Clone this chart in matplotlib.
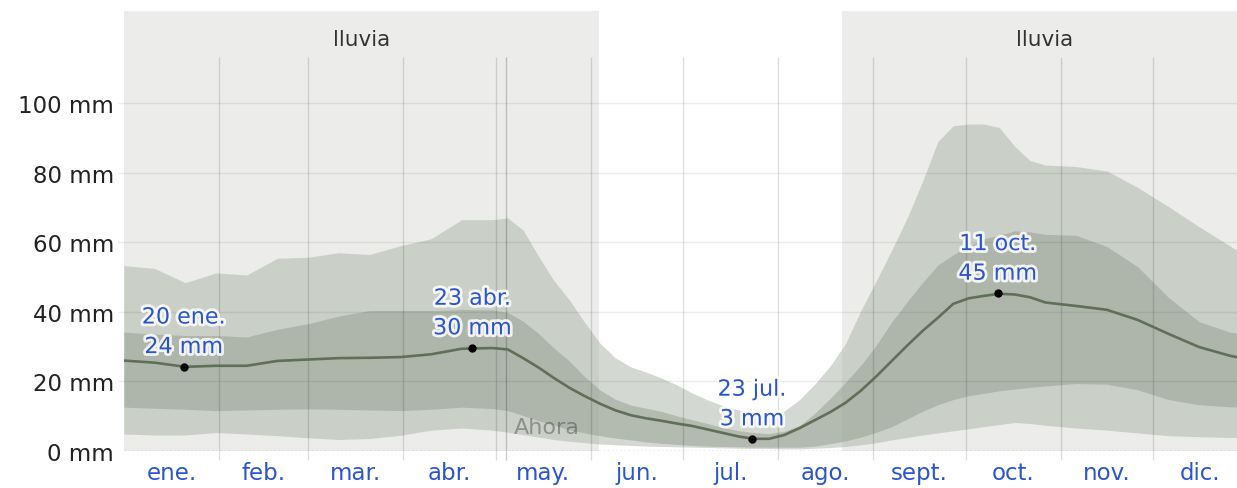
import matplotlib.pyplot as plt
import matplotlib.patheffects as pe

# días del año (año bisiesto, 0 = 1 ene.)
days = [0, 10, 20, 30, 40, 50, 60, 70, 80, 90, 100, 110,
        120, 125, 130, 135, 140, 145, 150, 155, 160, 165, 170, 175,
        180, 185, 190, 195, 200, 205, 210, 215, 220, 225, 230, 235,
        240, 245, 250, 255, 260, 265, 270, 275, 280, 285, 290, 295,
        300, 310, 320, 330, 340, 350, 360, 366]

# lluvia acumulada de 31 días (mm): percentiles 10/25/50/75/90
p10 = [4.9, 4.6, 4.6, 5.3, 4.9, 4.4, 3.8, 3.3, 3.6, 4.5, 6.0, 6.6,
       6.0, 5.4, 4.7, 4.0, 3.3, 2.8, 2.4, 2.0, 1.8, 1.6, 1.4, 1.3,
       1.2, 1.1, 1.0, 0.9, 0.8, 0.7, 0.7, 0.6, 0.6, 0.8, 1.0, 1.3,
       1.8, 2.4, 3.2, 3.9, 4.6, 5.2, 5.8, 6.4, 7.0, 7.6, 8.2, 7.9,
       7.4, 6.6, 6.0, 5.2, 4.4, 4.1, 3.9, 3.9]
p25 = [12.6, 12.3, 12.0, 11.6, 11.8, 12.0, 12.1, 12.0, 11.8, 11.6, 12.0, 12.6,
       12.2, 11.6, 10.2, 8.7, 7.5, 6.1, 5.2, 4.4, 3.7, 3.2, 2.6, 2.2,
       1.9, 1.6, 1.4, 1.3, 1.2, 1.1, 1.1, 1.1, 1.1, 1.4, 2.1, 2.9,
       4.0, 5.4, 7.0, 9.2, 11.4, 13.3, 14.8, 15.9, 16.6, 17.3, 17.8, 18.3,
       18.7, 19.4, 19.2, 17.6, 14.8, 13.3, 12.7, 12.5]
median = [26.0, 25.4, 24.2, 24.5, 24.5, 25.9, 26.3, 26.7, 26.8, 27.0, 27.8, 29.4,
          29.6, 29.2, 26.7, 24.0, 21.0, 18.2, 15.8, 13.6, 11.7, 10.3, 9.4, 8.7,
          7.9, 7.2, 6.2, 5.2, 4.2, 3.5, 3.5, 4.6, 6.6, 8.9, 11.2, 13.9,
          17.4, 21.5, 25.9, 30.3, 34.5, 38.3, 42.3, 43.9, 44.6, 45.2, 45.0, 44.2,
          42.7, 41.7, 40.6, 37.7, 33.7, 29.9, 27.4, 26.3]
p75 = [34.2, 33.6, 33.2, 33.2, 32.8, 35.0, 36.6, 38.8, 40.4, 40.4, 40.4, 40.7,
       40.6, 39.8, 37.3, 33.8, 29.6, 25.9, 21.4, 17.6, 14.9, 13.2, 12.3, 11.4,
       10.1, 9.0, 7.9, 6.7, 5.9, 5.3, 5.0, 5.7, 7.3, 10.9, 15.2, 19.8,
       24.7, 30.5, 37.1, 42.9, 48.4, 53.5, 56.4, 58.9, 61.0, 62.1, 63.3, 63.0,
       62.3, 62.0, 58.8, 53.0, 44.2, 37.2, 34.2, 33.5]
p90 = [53.3, 52.5, 48.4, 51.2, 50.6, 55.4, 55.7, 57.0, 56.5, 59.0, 61.0, 66.5,
       66.5, 67.0, 63.5, 56.0, 49.0, 43.5, 37.0, 31.0, 26.8, 24.2, 22.7, 21.0,
       19.0, 16.7, 14.7, 13.0, 11.8, 10.9, 10.3, 11.5, 14.8, 19.3, 24.5, 31.0,
       40.5, 49.0, 57.8, 67.0, 77.5, 89.0, 93.5, 94.0, 94.0, 93.0, 87.6, 83.5,
       82.2, 81.8, 80.5, 75.8, 70.3, 64.5, 59.0, 55.5]

month_starts = [0, 31, 60, 91, 121, 152, 182, 213, 244, 274, 305, 335, 366]
month_labels = ["ene.", "feb.", "mar.", "abr.", "may.", "jun.", "jul.",
                "ago.", "sept.", "oct.", "nov.", "dic."]
y_ticks = [0, 20, 40, 60, 80, 100]

rain_seasons = [(0, 154.7), (233.8, 366)]
today = 124.5

peak_days = [19.5, 113.5, 204.5, 284.5]
peak_values = [24.2, 29.6, 3.45, 45.3]
peak_labels = ["20 ene.\n24 mm", "23 abr.\n30 mm", "23 jul.\n3 mm",
               "11 oct.\n45 mm"]

blue = "#2b55cf"

fig = plt.figure(figsize=(12.37, 4.89), dpi=100)
ax = fig.add_axes([123.8 / 1237, 37 / 489, 1 - 123.8 / 1237, 440 / 489])
ax.set_xlim(0, (1237 - 123.8) / 3.072)
ax.set_ylim(0, 126.5)

# temporada de lluvia
for start, end in rain_seasons:
    ax.fill_between([start, end], 0, 126.5, color="#ececeb", lw=0, zorder=0)
    ax.text((start + end) / 2, 118.4, "lluvia", ha="center",
            va="center", fontsize=15.5, color="#333333")

# bandas de percentiles
ax.fill_between(days, p10, p90, color="#aab3a6", alpha=0.5, lw=0, zorder=1)
ax.fill_between(days, p25, p75, color="#939e8f", alpha=0.5, lw=0, zorder=2)
ax.plot(days, median, color="#5f6f58", lw=1.9, zorder=4,
        solid_joinstyle="round")

# cuadrícula
ax.hlines(y_ticks[1:], -2, 366, color="k", alpha=0.07, lw=1, zorder=3,
          clip_on=False)
ax.vlines(month_starts[1:-1], -2.6, 113.3, color="k", alpha=0.13, lw=1,
          zorder=3, clip_on=False)
ax.vlines([today], -2.6, 113.3, color="k", alpha=0.2, lw=1, zorder=3,
          clip_on=False)
ax.axhline(0, color="#999999", lw=1, ls=(0, (1, 2)), zorder=3)

ax.text(today + 2.5, 6.9, "Ahora", fontsize=16, color="k", alpha=0.3,
        va="center", ha="left", zorder=5)

# máximos y mínimos
halo = [pe.withStroke(linewidth=4, foreground="white", alpha=0.85)]
for d, v, lab in zip(peak_days, peak_values, peak_labels):
    ax.plot(d, v, "o", color="black", ms=5, zorder=6)
    ax.annotate(lab, (d, v), xytext=(0, 7), textcoords="offset points",
                ha="center", va="bottom", fontsize=16, color=blue,
                linespacing=1.6, path_effects=halo, zorder=7)

# ejes
mids = [(a + b) / 2 for a, b in zip(month_starts[:-1], month_starts[1:])]
ax.set_xticks(mids, month_labels, color=blue, fontsize=16.5)
ax.set_yticks(y_ticks, [f"{v} mm" for v in y_ticks], color="#222222",
              fontsize=16.5)
ax.tick_params(axis="x", length=0, pad=7)
ax.tick_params(axis="y", length=0, pad=7)
for s in ax.spines.values():
    s.set_visible(False)

fig.savefig("out.png", dpi=100)
